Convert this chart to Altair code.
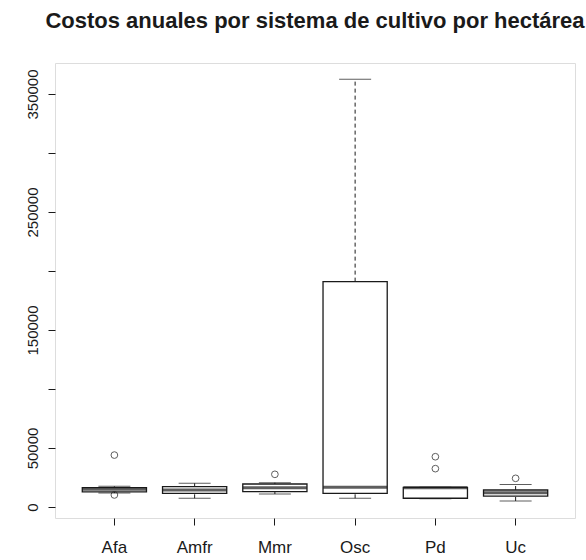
import altair as alt
import pandas as pd

# Annual cost per hectare, by cropping system (box-and-whisker summary)
categories = ["Afa", "Amfr", "Mmr", "Osc", "Pd", "Uc"]
whisker_low = [11800, 7400, 11000, 7400, 7000, 5100]
q1 = [12800, 11600, 13000, 11600, 7400, 9300]
median = [15000, 14400, 16400, 16700, 16400, 12100]
q3 = [16500, 17200, 19500, 191000, 16700, 14400]
whisker_high = [17500, 20100, 20600, 362500, 16700, 19000]

outlier_cat = ["Afa", "Afa", "Mmr", "Pd", "Pd", "Uc"]
outlier_val = [44000, 10200, 27700, 42600, 32500, 24300]

y_ticks = [0, 50000, 100000, 150000, 200000, 250000, 300000, 350000]
y_labelled = [0, 50000, 150000, 250000, 350000]

stats = pd.DataFrame({
    "sistema": categories,
    "lo": whisker_low,
    "q1": q1,
    "med": median,
    "q3": q3,
    "hi": whisker_high,
})
outliers = pd.DataFrame({"sistema": outlier_cat, "costo": outlier_val})

FONT = "Liberation Sans"
INK = "#1a1a1a"

x_scale = alt.Scale(domain=categories, paddingInner=0, paddingOuter=0.24)
y_scale = alt.Scale(domain=[-9320, 376270], nice=False, zero=False)

label_test = " || ".join(f"datum.value == {v}" for v in y_labelled)

x_enc = alt.X(
    "sistema:N",
    scale=x_scale,
    sort=categories,
    title=None,
    axis=alt.Axis(
        labelAngle=0,
        labelFont=FONT,
        labelFontSize=17,
        labelColor=INK,
        labelPadding=14,
        tickSize=7,
        tickColor=INK,
        domain=False,
        grid=False,
    ),
)

y_axis = alt.Axis(
    values=y_ticks,
    labelExpr=f"({label_test}) ? datum.label : ''",
    labelAngle=270,
    labelAlign="center",
    labelBaseline="bottom",
    labelFont=FONT,
    labelFontSize=15,
    labelColor=INK,
    labelPadding=8,
    tickSize=7,
    tickColor=INK,
    domain=False,
    grid=False,
    format="d",
)

base = alt.Chart(stats)

# dashed whiskers from hinge to whisker end
upper_whisker = base.mark_rule(color=INK, strokeWidth=1, strokeDash=[4, 3]).encode(
    x=x_enc,
    y=alt.Y("q3:Q", scale=y_scale, axis=y_axis, title=None),
    y2="hi:Q",
)
lower_whisker = base.mark_rule(color=INK, strokeWidth=1, strokeDash=[4, 3]).encode(
    x="sistema:N", y="lo:Q", y2="q1:Q"
)

# staples at whisker ends
cap_hi = base.mark_tick(color=INK, size=32, thickness=1, orient="horizontal").encode(
    x="sistema:N", y="hi:Q"
)
cap_lo = base.mark_tick(color=INK, size=32, thickness=1, orient="horizontal").encode(
    x="sistema:N", y="lo:Q"
)

# boxes
boxes = base.mark_bar(
    fill="white", stroke=INK, strokeWidth=1.3, width=alt.RelativeBandSize(0.8)
).encode(x="sistema:N", y="q1:Q", y2="q3:Q")

# median bars
medians = base.mark_tick(color=INK, size=64, thickness=3, orient="horizontal").encode(
    x="sistema:N", y="med:Q"
)

points = alt.Chart(outliers).mark_point(
    shape="circle", filled=False, color=INK, size=45, strokeWidth=1
).encode(x="sistema:N", y="costo:Q")

chart = (
    alt.layer(upper_whisker, lower_whisker, cap_hi, cap_lo, boxes, medians, points)
    .properties(
        width=520,
        height=455,
        title=alt.TitleParams(
            "Costos anuales por sistema de cultivo por hectárea",
            font=FONT,
            fontSize=22,
            fontWeight="bold",
            color=INK,
            anchor="middle",
            offset=30,
        ),
        autosize=alt.AutoSizeParams(type="none"),
        padding={"left": 55, "top": 63, "right": 11, "bottom": 42},
    )
    .configure_view(stroke="#333333", strokeWidth=1)
    .configure(background="white")
)

chart.save("out.html", embed_options={"renderer": "svg", "actions": False})
